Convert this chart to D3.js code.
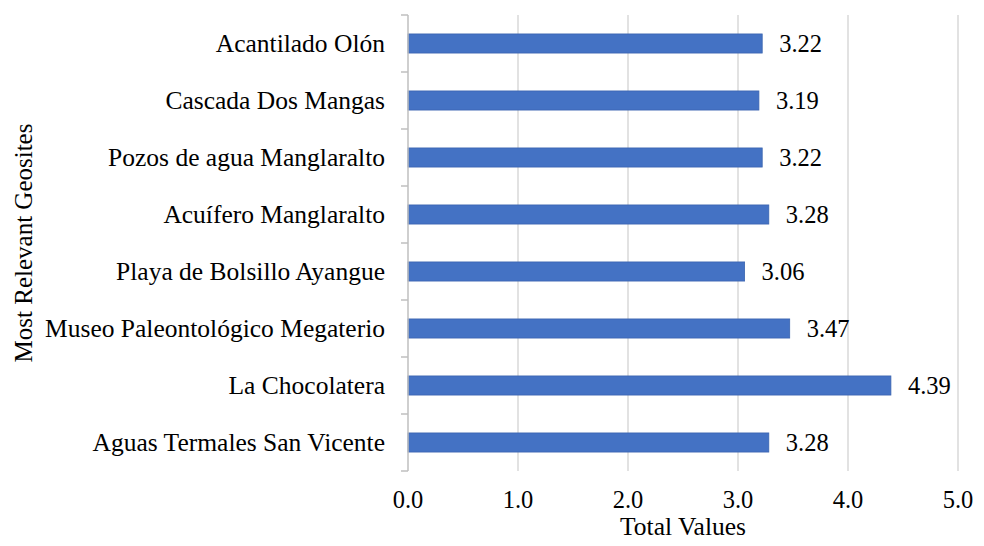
<!DOCTYPE html>
<html>
<head>
<meta charset="utf-8">
<script src="https://cdnjs.cloudflare.com/ajax/libs/d3/7.8.5/d3.min.js"></script>
<style>
  body { margin: 0; background: #fff; }
</style>
</head>
<body>
<div id="chart"></div>
<script>
// data (top to bottom)
var sites = [
  "Acantilado Olón",
  "Cascada Dos Mangas",
  "Pozos de agua Manglaralto",
  "Acuífero Manglaralto",
  "Playa de Bolsillo Ayangue",
  "Museo Paleontológico Megaterio",
  "La Chocolatera",
  "Aguas Termales San Vicente"
];
var totals = [3.22, 3.19, 3.22, 3.28, 3.06, 3.47, 4.39, 3.28];
var xTicks = [0, 1, 2, 3, 4, 5];

var width = 984, height = 546;
var margin = { top: 15, right: 26, bottom: 75, left: 408 };
var h = height - margin.top - margin.bottom;
var serif = "'Liberation Serif', 'Times New Roman', serif";

var svg = d3.select('#chart').append('svg')
  .attr('width', width).attr('height', height);

var g = svg.append('g')
  .attr('transform', 'translate(' + margin.left + ',' + margin.top + ')');

var x = d3.scaleLinear().domain([0, 5]).range([0, 550]);
var y = d3.scaleBand().domain(sites).range([0, h]).paddingInner(0.665).paddingOuter(0.3325);

// vertical gridlines
g.selectAll('line.grid')
  .data(xTicks.slice(1))
  .enter().append('line')
  .attr('class', 'grid')
  .attr('x1', function (d) { return x(d); })
  .attr('x2', function (d) { return x(d); })
  .attr('y1', 0).attr('y2', h)
  .attr('stroke', '#d9d9d9').attr('stroke-width', 1.5);

// bars
g.selectAll('rect')
  .data(totals)
  .enter().append('rect')
  .attr('x', 0)
  .attr('y', function (d, i) { return y(sites[i]); })
  .attr('width', function (d) { return x(d); })
  .attr('height', y.bandwidth())
  .attr('fill', '#4472c4')
  .attr('stroke', '#3a64b0').attr('stroke-width', 0.8);

// value labels
g.selectAll('text.val')
  .data(totals)
  .enter().append('text')
  .attr('class', 'val')
  .attr('x', function (d) { return x(d) + 17; })
  .attr('y', function (d, i) { return y(sites[i]) + y.bandwidth() / 2; })
  .attr('dy', '0.35em')
  .style('font-family', serif)
  .style('font-size', '24.5px')
  .text(function (d) { return d.toFixed(2); });

// y axis: line and ticks between categories
var step = h / sites.length;
g.append('line')
  .attr('x1', 0).attr('x2', 0).attr('y1', 0).attr('y2', h)
  .attr('stroke', '#bfbfbf').attr('stroke-width', 1.5);
g.selectAll('line.ytick')
  .data(d3.range(sites.length + 1))
  .enter().append('line')
  .attr('class', 'ytick')
  .attr('x1', -7).attr('x2', 0)
  .attr('y1', function (d) { return d * step; })
  .attr('y2', function (d) { return d * step; })
  .attr('stroke', '#bfbfbf').attr('stroke-width', 1.5);

// category labels
g.selectAll('text.cat')
  .data(sites)
  .enter().append('text')
  .attr('class', 'cat')
  .attr('x', -23)
  .attr('y', function (d) { return y(d) + y.bandwidth() / 2; })
  .attr('dy', '0.35em')
  .attr('text-anchor', 'end')
  .style('font-family', serif)
  .style('font-size', '25.5px')
  .text(function (d) { return d; });

// x tick labels
g.selectAll('text.xt')
  .data(xTicks)
  .enter().append('text')
  .attr('class', 'xt')
  .attr('x', function (d) { return x(d); })
  .attr('y', h + 37)
  .attr('text-anchor', 'middle')
  .style('font-family', serif)
  .style('font-size', '24.5px')
  .text(function (d) { return d.toFixed(1); });

// axis titles
svg.append('text')
  .attr('x', margin.left + x(2.5))
  .attr('y', 535)
  .attr('text-anchor', 'middle')
  .style('font-family', serif)
  .style('font-size', '25.5px')
  .text('Total Values');

svg.append('text')
  .attr('transform', 'translate(23,' + (margin.top + h / 2) + ') rotate(-90)')
  .attr('dy', '0.35em')
  .attr('text-anchor', 'middle')
  .style('font-family', serif)
  .style('font-size', '25px')
  .text('Most Relevant Geosites');
</script>
</body>
</html>
